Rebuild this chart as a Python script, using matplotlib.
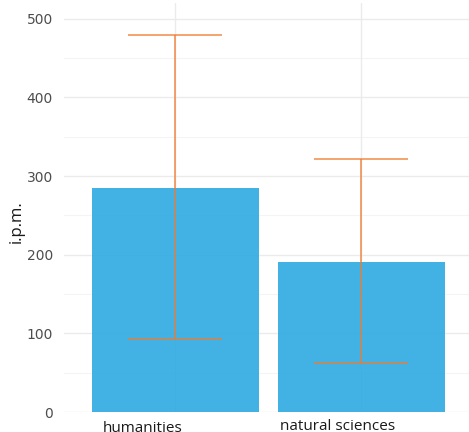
import matplotlib
matplotlib.use("Agg")
import matplotlib.pyplot as plt
import numpy as np

categories = ["humanities", "natural sciences"]
values = [285, 191]
err_low = [93, 62]
err_high = [479, 322]
yticks = [0, 100, 200, 300, 400, 500]

W, H = 469, 432
fig = plt.figure(figsize=(W/100, H/100), dpi=100)
ax = fig.add_axes([64/W, 20/H, 1 - 64/W, (412-3)/H])

x = np.arange(len(categories))
ax.set_xlim(-0.6, 1.58)
ax.set_ylim(0, 520)

# grid
for t in yticks:
    ax.axhline(t, color="#ebebeb", lw=1.0, zorder=0)
for t in [50, 150, 250, 350, 450]:
    ax.axhline(t, color="#f4f4f4", lw=0.8, zorder=0)
for xi in x:
    ax.axvline(xi, color="#ebebeb", lw=1.0, zorder=0)

ax.bar(x, values, width=0.9, color="#27a8e0", alpha=0.88, zorder=2)

yerr = np.array([[v - lo for v, lo in zip(values, err_low)],
                 [hi - v for v, hi in zip(values, err_high)]])
ax.errorbar(x, values, yerr=yerr, fmt="none", ecolor="#EE7A30", alpha=0.75,
            elinewidth=1.3, capsize=33.5, capthick=1.3, zorder=3)

for s in ax.spines.values():
    s.set_visible(False)
ax.set_yticks(yticks)
ax.set_yticklabels([str(t) for t in yticks], fontsize=10, color="#4d4d4d")
ax.tick_params(axis="y", length=0, pad=8)
ax.set_xticks([])

fig.text(17/W, 1 - 222/H, "i.p.m.", rotation=90, ha="center", va="center",
         fontsize=12, family="Open Sans", color="#1a1a1a")

# category labels (offset as in reference)
ax.text(-0.39, -0.023, categories[0], transform=ax.get_xaxis_transform(),
        ha="left", va="top", fontsize=11, family="Open Sans", color="#1a1a1a")
ax.text(0.56, -0.017, categories[1], transform=ax.get_xaxis_transform(),
        ha="left", va="top", fontsize=11, family="Open Sans", color="#1a1a1a")

fig.savefig("out.png", dpi=100)
